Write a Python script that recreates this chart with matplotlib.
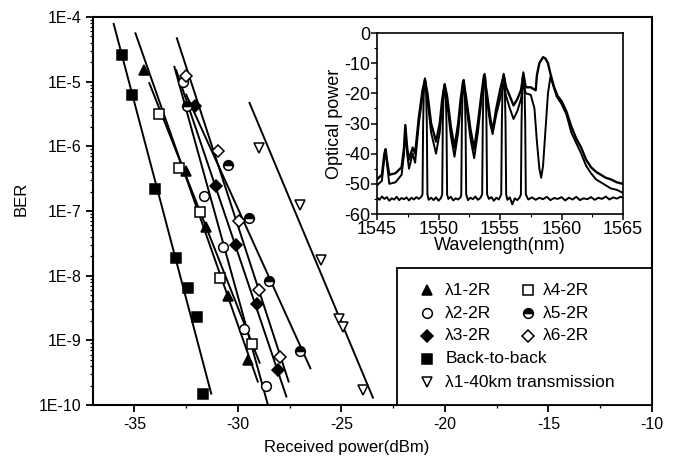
import numpy as np
import matplotlib
matplotlib.use("Agg")
import matplotlib.pyplot as plt
from matplotlib.ticker import MultipleLocator, LogLocator, FuncFormatter, NullFormatter
from matplotlib.patches import Rectangle

plt.rcParams['font.family'] = ['Liberation Sans', 'DejaVu Sans']
plt.rcParams['axes.unicode_minus'] = False

# ---- BER measurements (received power in dBm, BER) ----
b2b_x = [-35.6, -35.1, -34.0, -33.0, -32.4, -32.0, -31.7]
b2b_ber = [2.6e-5, 6.2e-6, 2.2e-7, 1.9e-8, 6.5e-9, 2.3e-9, 1.5e-10]

l1_x = [-34.55, -32.53, -31.53, -30.49, -29.52]
l1_ber = [1.5e-5, 4.1e-7, 5.6e-8, 4.8e-9, 4.9e-10]

l2_x = [-32.63, -31.66, -30.70, -29.73, -28.63]
l2_ber = [1.0e-5, 1.7e-7, 2.8e-8, 1.5e-9, 2.0e-10]

l3_x = [-32.05, -31.08, -30.08, -29.07, -28.07]
l3_ber = [4.2e-6, 2.4e-7, 3.0e-8, 3.7e-9, 3.5e-10]

l4_x = [-33.82, -32.86, -31.82, -30.86, -29.31]
l4_ber = [3.2e-6, 4.6e-7, 9.5e-8, 9.1e-9, 8.7e-10]

l5_x = [-32.47, -30.49, -29.47, -28.48, -27.02]
l5_ber = [4.2e-6, 5.1e-7, 7.8e-8, 8.3e-9, 6.9e-10]

l6_x = [-32.50, -30.97, -29.96, -28.99, -27.99]
l6_ber = [1.23e-5, 8.5e-7, 6.9e-8, 6.0e-9, 5.5e-10]

km40_x = [-28.96, -26.99, -25.97, -25.12, -24.93, -23.96]
km40_ber = [9.3e-7, 1.23e-7, 1.74e-8, 2.1e-9, 1.6e-9, 1.7e-10]

# fitted lines (end points)
b2b_fit_x, b2b_fit_ber = [-36.0, -31.29], [7.8e-5, 1.5e-10]
l1_fit_x, l1_fit_ber = [-34.95, -29.04], [5.6e-5, 2.3e-10]
l2_fit_x, l2_fit_ber = [-33.07, -28.55], [1.7e-5, 1.0e-10]
l3_fit_x, l3_fit_ber = [-32.98, -27.66], [1.5e-5, 1.35e-10]
l4_fit_x, l4_fit_ber = [-34.28, -28.95], [9.5e-6, 4.5e-10]
l5_fit_x, l5_fit_ber = [-32.5, -26.5], [6.3e-6, 3.7e-10]
l6_fit_x, l6_fit_ber = [-32.95, -27.55], [4.7e-5, 2.3e-10]
km40_fit_x, km40_fit_ber = [-29.44, -23.48], [4.7e-6, 1.3e-10]

# ---- inset spectra (wavelength nm, optical power dB) ----
spec_a_wl = [1545.0, 1545.4, 1545.6, 1545.7, 1545.8, 1546.0, 1546.5, 1547.0, 1547.2, 1547.3,
             1547.45, 1547.6, 1547.9, 1548.1, 1548.4, 1548.7, 1548.9, 1549.1, 1549.4, 1549.8,
             1550.1, 1550.3, 1550.5, 1550.7, 1551.0, 1551.3, 1551.6, 1551.8, 1552.0, 1552.2,
             1552.6, 1552.9, 1553.2, 1553.5, 1553.7, 1553.9, 1554.2, 1554.4, 1554.7, 1555.0,
             1555.3, 1555.5, 1555.8, 1556.1, 1556.4, 1556.7, 1556.9, 1557.1, 1557.5, 1557.9,
             1558.0, 1558.2, 1558.5, 1558.7, 1558.9, 1559.1, 1559.4, 1559.7, 1560.0, 1560.4,
             1560.8, 1561.2, 1561.6, 1562.0, 1562.4, 1562.8, 1563.2, 1563.6, 1564.0, 1564.5, 1565.0]
spec_a_db = [-48.5, -47, -40, -38.5, -42, -47, -46.5, -44.5, -38, -30.5,
             -38, -42, -38, -40, -28, -19, -15.5, -20, -30, -36,
             -30, -22, -17, -21, -31, -38, -30, -22, -16, -20,
             -32, -38.5, -30, -20, -14, -19, -28, -32.5, -25, -19,
             -14, -18, -21, -24, -22, -19, -14, -18, -18, -19,
             -14, -10, -8, -8.5, -10, -13.5, -18, -21, -22.5, -26,
             -31, -35, -38, -42, -44.5, -46, -47, -48, -48.5, -49.5, -50]

spec_b_wl = [1545.0, 1545.4, 1545.6, 1545.7, 1545.8, 1546.0, 1546.5, 1547.0, 1547.2, 1547.3,
             1547.45, 1547.6, 1547.9, 1548.1, 1548.4, 1548.7, 1548.9, 1549.1, 1549.4, 1549.8,
             1550.1, 1550.3, 1550.5, 1550.7, 1551.0, 1551.3, 1551.6, 1551.8, 1552.0, 1552.2,
             1552.6, 1552.9, 1553.2, 1553.5, 1553.7, 1553.9, 1554.2, 1554.4, 1554.7, 1555.0,
             1555.3, 1555.5, 1555.8, 1556.1, 1556.4, 1556.7, 1556.9, 1557.1, 1557.5, 1557.8,
             1558.0, 1558.2, 1558.35, 1558.5, 1558.7, 1558.9, 1559.1, 1559.3, 1559.6, 1560.0,
             1560.4, 1560.8, 1561.2, 1561.6, 1562.0, 1562.4, 1562.8, 1563.2, 1563.6, 1564.0,
             1564.5, 1565.0]
spec_b_db = [-50.5, -49, -41, -39, -43, -50, -49.5, -47, -40, -31,
             -40, -45, -40, -43, -30, -21, -17, -22, -33, -40,
             -33, -24, -19, -23, -34, -41, -33, -24, -18, -22,
             -35, -41.5, -33, -22, -16, -21, -30, -33.5, -27, -22,
             -17, -21, -25, -28.5, -26, -22, -17, -20, -20.5, -25,
             -36, -45, -48, -44, -32, -20, -14.5, -17, -21, -23.5,
             -27, -33, -36.5, -40, -44, -46.5, -48.5, -49.5, -50.5, -51.5,
             -52, -53]

spec_c_wl = [1545.0, 1545.2, 1545.4, 1545.6, 1545.8, 1546.0, 1546.2, 1546.4, 1546.6, 1546.8,
             1547.0, 1547.2, 1547.4, 1547.6, 1547.8, 1548.0, 1548.2, 1548.4, 1548.6,
             1548.7, 1548.75, 1548.82, 1548.9, 1548.98, 1549.05, 1549.1,
             1549.2, 1549.4, 1549.6, 1549.8, 1550.0, 1550.2,
             1550.3, 1550.35, 1550.42, 1550.5, 1550.58, 1550.65, 1550.7,
             1550.8, 1551.0, 1551.2, 1551.4, 1551.6, 1551.8,
             1551.85, 1551.9, 1551.97, 1552.05, 1552.12, 1552.2, 1552.25,
             1552.4, 1552.6, 1552.8, 1553.0, 1553.2, 1553.4,
             1553.55, 1553.6, 1553.67, 1553.75, 1553.83, 1553.9, 1553.95,
             1554.1, 1554.3, 1554.5, 1554.7, 1554.9,
             1555.1, 1555.15, 1555.22, 1555.3, 1555.38, 1555.45, 1555.5,
             1555.6, 1555.8, 1556.0, 1556.2, 1556.4, 1556.6,
             1556.7, 1556.75, 1556.82, 1556.9, 1556.98, 1557.05, 1557.1,
             1557.3, 1557.6, 1557.9, 1558.2, 1558.5, 1558.8, 1559.1, 1559.4, 1559.7, 1560.0,
             1560.3, 1560.6, 1560.9, 1561.2, 1561.5, 1561.8, 1562.1, 1562.4, 1562.7, 1563.0,
             1563.3, 1563.6, 1563.9, 1564.2, 1564.5, 1564.8, 1565.0]
spec_c_db = [-54.5, -55.3, -54.2, -55.0, -54.4, -55.6, -54.8, -55.2, -54.3, -55.4,
             -54.7, -55.1, -54.5, -55.5, -54.6, -55.2, -54.4, -55.0, -54.3,
             -53.5, -30, -17, -15, -17, -30, -53.5,
             -55.3, -54.6, -55.4, -54.5, -55.6, -54.7,
             -53.5, -30, -19, -17, -19, -30, -53.5,
             -55.0, -54.3, -55.5, -54.8, -55.2, -54.4,
             -53.5, -30, -17.5, -15.5, -17.5, -30, -53.5,
             -55.4, -54.6, -55.1, -54.2, -55.3, -54.7,
             -53.5, -30, -15.5, -13.5, -15.5, -30, -53.5,
             -55.0, -54.4, -55.6, -54.6, -55.2,
             -53.5, -30, -15.5, -13.5, -15.5, -30, -53.5,
             -55.3, -54.5, -56.8, -54.8, -55.4, -54.5,
             -53.5, -30, -15, -13, -15, -30, -53.5,
             -55.2, -54.5, -55.3, -54.6, -55.1, -54.3, -55.4, -54.7, -55.0, -54.4,
             -55.5, -54.6, -55.2, -54.3, -55.4, -54.8, -55.1, -54.4, -55.3, -54.6,
             -55.0, -54.2, -55.2, -54.5, -54.9, -54.3, -54.6]

fig = plt.figure(figsize=(6.75, 4.63), dpi=100)
ax = fig.add_axes([93/675, 1 - 405/463, 559/675, 388/463])

series = [
    (l1_x, l1_ber, l1_fit_x, l1_fit_ber, '^', 'black', 'full', 7, 'λ1-2R'),
    (l2_x, l2_ber, l2_fit_x, l2_fit_ber, 'o', 'white', 'full', 7, 'λ2-2R'),
    (l3_x, l3_ber, l3_fit_x, l3_fit_ber, 'D', 'black', 'full', 6, 'λ3-2R'),
    (l4_x, l4_ber, l4_fit_x, l4_fit_ber, 's', 'white', 'full', 6.5, 'λ4-2R'),
    (l5_x, l5_ber, l5_fit_x, l5_fit_ber, 'o', 'black', 'top', 7, 'λ5-2R'),
    (l6_x, l6_ber, l6_fit_x, l6_fit_ber, 'D', 'white', 'full', 6, 'λ6-2R'),
    (b2b_x, b2b_ber, b2b_fit_x, b2b_fit_ber, 's', 'black', 'full', 6.5, 'Back-to-back'),
    (km40_x, km40_ber, km40_fit_x, km40_fit_ber, 'v', 'white', 'full', 7, 'λ1-40km transmission'),
]

for xs, bers, fx, fb, mk, fc, fs, ms, lab in series:
    ax.plot(fx, fb, color='black', lw=1.4, zorder=2)
for xs, bers, fx, fb, mk, fc, fs, ms, lab in series:
    ax.plot(xs, bers, ls='none', marker=mk, ms=ms, mfc=fc, mec='black', mew=1.1,
            fillstyle=fs, markerfacecoloralt='white', zorder=3)

ax.set_yscale('log')
ax.set_xlim(-37, -10)
ax.set_ylim(1e-10, 1e-4)
ax.xaxis.set_major_locator(MultipleLocator(5))
ax.xaxis.set_minor_locator(MultipleLocator(2.5))
ax.yaxis.set_major_locator(LogLocator(base=10, numticks=10))
ax.yaxis.set_minor_locator(LogLocator(base=10, subs=np.arange(2, 10), numticks=20))
ax.yaxis.set_minor_formatter(NullFormatter())
ax.yaxis.set_major_formatter(FuncFormatter(lambda v, p: "1E%d" % int(round(np.log10(v)))))
ax.tick_params(which='major', direction='out', length=5, width=1.3, labelsize=11.5)
ax.tick_params(which='minor', direction='out', length=2.5, width=0.9)
for s in ax.spines.values():
    s.set_linewidth(1.5)
ax.set_xlabel('Received power(dBm)', fontsize=12)
ax.xaxis.set_label_coords(0.453, -0.09)
ax.set_ylabel('BER', fontsize=12)
ax.yaxis.set_label_coords(-0.115, 0.53)

# legend drawn as a box in the lower right corner
ax.add_patch(Rectangle((0.544, 0.0), 0.456, 0.353, transform=ax.transAxes,
                       facecolor='white', edgecolor='black', lw=1.3, zorder=5))
leg_pos = [(0.597, 0.630, 0.296), (0.597, 0.630, 0.237), (0.597, 0.630, 0.178),
           (0.778, 0.805, 0.296), (0.778, 0.805, 0.237), (0.778, 0.805, 0.178),
           (0.597, 0.630, 0.119), (0.597, 0.630, 0.059)]
for (xs, bers, fx, fb, mk, fc, fs, ms, lab), (mx, tx, ty) in zip(series, leg_pos):
    ax.plot([mx], [ty], transform=ax.transAxes, ls='none', marker=mk, ms=ms, mfc=fc,
            mec='black', mew=1.1, fillstyle=fs, markerfacecoloralt='white',
            zorder=6, clip_on=False)
    ax.text(tx, ty, lab, transform=ax.transAxes, fontsize=12.5, va='center', ha='left', zorder=6)

# inset spectrum
ins = fig.add_axes([377/675, 1 - 214/463, 246/675, 181/463])
ins.plot(spec_c_wl, spec_c_db, color='black', lw=1.4)
ins.plot(spec_b_wl, spec_b_db, color='black', lw=1.4)
ins.plot(spec_a_wl, spec_a_db, color='black', lw=1.7)
ins.set_xlim(1545, 1565)
ins.set_ylim(-60, 0)
ins.xaxis.set_major_locator(MultipleLocator(5))
ins.xaxis.set_minor_locator(MultipleLocator(2.5))
ins.yaxis.set_major_locator(MultipleLocator(10))
ins.yaxis.set_minor_locator(MultipleLocator(5))
ins.tick_params(which='major', direction='out', length=4, width=1.1, labelsize=13, pad=1)
ins.tick_params(which='minor', direction='out', length=2, width=0.8)
for s in ins.spines.values():
    s.set_linewidth(1.2)
ins.set_xlabel('Wavelength(nm)', fontsize=13, labelpad=-1)
ins.set_ylabel('Optical power', fontsize=13, labelpad=1)

fig.savefig('out.png', dpi=100)
